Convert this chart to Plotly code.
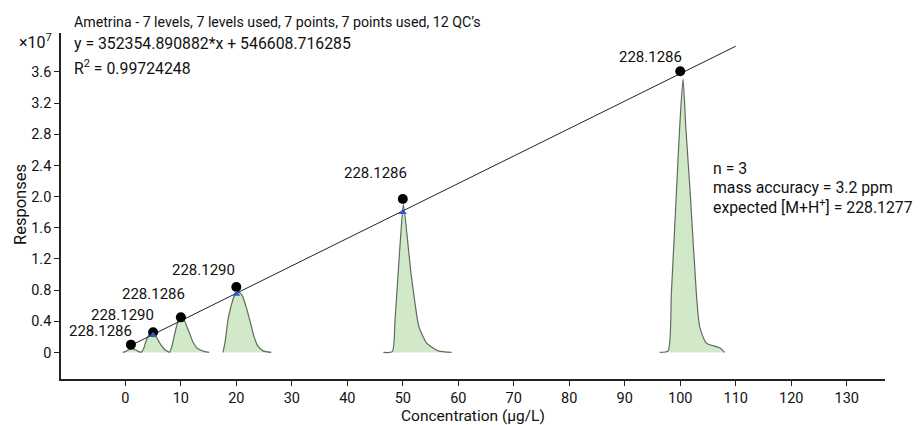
import plotly.graph_objects as go

# ---------------- data ----------------
cal_conc = [1, 5, 10, 20, 50, 100]
cal_resp = [0.10, 0.26, 0.45, 0.84, 1.97, 3.61]          # x10^7
cal_mass = ["228.1286", "228.1290", "228.1286", "228.1290", "228.1286", "228.1286"]

qc_conc = [5, 20, 50]
qc_resp = [0.22, 0.75, 1.80]

slope = 352354.890882
intercept = 546608.716285
fit_x = [0.8, 110]

x_ticks = [0, 10, 20, 30, 40, 50, 60, 70, 80, 90, 100, 110, 120, 130]
y_ticks = [0, 0.4, 0.8, 1.2, 1.6, 2.0, 2.4, 2.8, 3.2, 3.6]
y_ticktext = ["0", "0.4", "0.8", "1.2", "1.6", "2.0", "2.4", "2.8", "3.2", "3.6"]

peak1_x = [-0.5, 0.0, 0.6, 1.2, 1.8, 2.4, 2.9]
peak1_y = [0, 0.01, 0.035, 0.045, 0.035, 0.01, 0]
peak5_x = [2.9, 3.3, 3.7, 4.2, 4.7, 5.3, 5.8, 6.2, 6.8, 7.4, 8.0]
peak5_y = [0, 0.05, 0.14, 0.22, 0.25, 0.22, 0.17, 0.12, 0.06, 0.02, 0]
peak10_x = [8.0, 8.4, 8.9, 9.5, 10.1, 10.7, 11.2, 11.6, 12.2, 13.0, 14.3, 15.1]
peak10_y = [0, 0.08, 0.24, 0.40, 0.45, 0.40, 0.31, 0.24, 0.13, 0.05, 0.01, 0]
peak20_x = [17.6, 18.0, 18.5, 19.0, 19.6, 20.3, 21.0, 21.7, 22.4, 23.2, 23.9, 24.8, 26.3]
peak20_y = [0, 0.15, 0.42, 0.58, 0.72, 0.78, 0.74, 0.60, 0.42, 0.20, 0.08, 0.02, 0]
peak50_x = [46.5, 48.1, 48.6, 49.2, 49.6, 50.1, 50.8, 51.4, 52.2, 52.9, 54.3, 56.4, 58.8]
peak50_y = [0, 0.01, 0.42, 1.06, 1.48, 1.90, 1.48, 1.06, 0.63, 0.33, 0.12, 0.02, 0]
peak100_x = [96.3, 97.8, 98.4, 99.3, 99.9, 100.5, 101.0, 101.8, 102.9, 103.5, 104.7, 107.1, 108.0]
peak100_y = [0, 0.02, 0.76, 2.04, 2.89, 3.51, 2.89, 2.04, 0.76, 0.33, 0.12, 0.06, 0]

# ---------------- figure ----------------
FONT = "Roboto, Liberation Sans, sans-serif"
L, R, T, B = 61, 37, 33, 46
W, H = 922, 425
PW, PH = W - L - R, H - T - B


def px_x(x):
    return (x - L) / PW


def px_y(y):
    return (H - B - y) / PH


fig = go.Figure()

peaks = [(peak1_x, peak1_y), (peak5_x, peak5_y), (peak10_x, peak10_y),
         (peak20_x, peak20_y), (peak50_x, peak50_y), (peak100_x, peak100_y)]
for pxs, pys in peaks:
    fig.add_trace(go.Scatter(
        x=pxs, y=pys, mode="lines", fill="tozeroy",
        fillcolor="#d2e9c9", line=dict(color="#5f6b5f", width=1.2, shape="spline", smoothing=0.6),
        hoverinfo="skip", showlegend=False))

fit_y = [(slope * x + intercept) / 1e7 for x in fit_x]
fig.add_trace(go.Scatter(x=fit_x, y=fit_y, mode="lines",
                         line=dict(color="#222222", width=1), showlegend=False))

fig.add_trace(go.Scatter(x=cal_conc, y=cal_resp, mode="markers",
                         marker=dict(color="black", size=10), showlegend=False))
fig.add_trace(go.Scatter(x=qc_conc, y=qc_resp, mode="markers",
                         marker=dict(color="#3a55c8", size=7, symbol="triangle-up"),
                         showlegend=False))

label_shift = [(-30, 14), (-31, 17), (-27, 23), (-33, 17), (-27, 26), (-30, 14)]
for cx, cy, txt, (dx, dy) in zip(cal_conc, cal_resp, cal_mass, label_shift):
    fig.add_annotation(x=cx, y=cy, text=txt, showarrow=False, xshift=dx, yshift=dy,
                       font=dict(size=15, color="#111"))

top_texts = [
    ("Ametrina - 7 levels, 7 levels used, 7 points, 7 points used, 12 QC\u2019s", 22, 14.2),
    ("y = 352354.890882*x + 546608.716285", 43, 15.8),
    ("R<sup>2</sup> = 0.99724248", 67, 15.8),
]
for txt, ypx, fs in top_texts:
    fig.add_annotation(xref="paper", yref="paper", x=px_x(72), y=px_y(ypx), text=txt,
                       showarrow=False, xanchor="left", yanchor="middle",
                       font=dict(size=fs, color="#111"))

fig.add_annotation(xref="paper", yref="paper", x=px_x(54), y=px_y(41),
                   text="\u00d710<sup>7</sup>", showarrow=False, xanchor="right",
                   yanchor="middle", font=dict(size=16, color="#111"))

right_texts = ["n = 3", "mass accuracy = 3.2 ppm", "expected [M+H<sup>+</sup>] = 228.1277"]
for i, txt in enumerate(right_texts):
    fig.add_annotation(xref="paper", yref="paper", x=px_x(711),
                       y=px_y(168 + 19 * i), text=txt, showarrow=False,
                       xanchor="left", yanchor="middle", font=dict(size=15.8, color="#111"))

# axis titles
fig.add_annotation(xref="paper", yref="paper", x=px_x(473), y=px_y(416),
                   text="Concentration (\u00b5g/L)", showarrow=False, borderpad=0,
                   xanchor="center", yanchor="middle", font=dict(size=15.5, color="#111"))
fig.add_annotation(xref="paper", yref="paper", x=px_x(20), y=px_y(205),
                   text="Responses", textangle=-90, showarrow=False,
                   xanchor="center", yanchor="middle", font=dict(size=16.5, color="#111"))

fig.update_layout(
    width=W, height=H,
    margin=dict(l=L, r=R, t=T, b=B, autoexpand=False),
    plot_bgcolor="white", paper_bgcolor="white",
    font=dict(family=FONT, size=14.5, color="#111"),
    xaxis=dict(range=[-11.6, 136.9], tickvals=x_ticks, ticks="outside", ticklen=5,
               tickcolor="#222", showline=True, linecolor="#222", linewidth=1.5,
               showgrid=False, zeroline=False, automargin=False),
    yaxis=dict(range=[-0.341, 4.10], tickvals=y_ticks, ticktext=y_ticktext,
               ticks="outside", ticklen=5, tickcolor="#222", showline=True,
               linecolor="#222", linewidth=1.5, showgrid=False, zeroline=False,
               automargin=False),
)

fig.write_html("out.html", config={"displayModeBar": False},
               post_script="document.body.style.margin='0';document.body.style.overflow='hidden';")
